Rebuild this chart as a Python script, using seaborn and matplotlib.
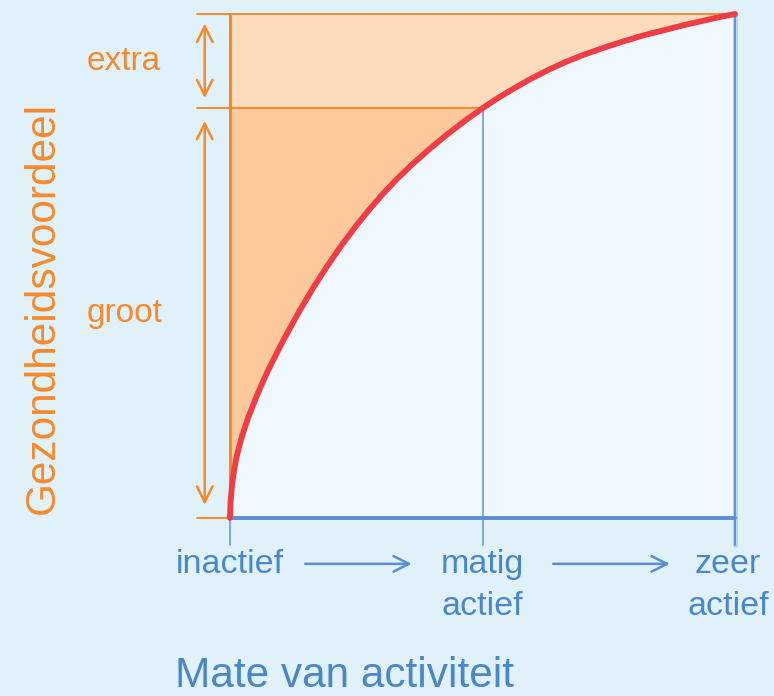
import numpy as np
import pandas as pd
import seaborn as sns
import matplotlib.pyplot as plt

# curve (activity 0..1, benefit 0..1)
activity = [0, 0.001, 0.004, 0.008, 0.012, 0.016, 0.022, 0.029, 0.036, 0.045,
            0.055, 0.065, 0.075, 0.087, 0.1, 0.12, 0.14, 0.165, 0.19, 0.22,
            0.25, 0.275, 0.3, 0.33, 0.36, 0.395, 0.43, 0.465, 0.5, 0.53,
            0.56, 0.595, 0.63, 0.665, 0.7, 0.74, 0.78, 0.82, 0.86, 0.895,
            0.93, 0.965, 1.0]
benefit = [0, 0.029, 0.065, 0.094, 0.116, 0.133, 0.156, 0.178, 0.199, 0.222,
           0.247, 0.27, 0.292, 0.316, 0.342, 0.379, 0.415, 0.457, 0.496, 0.54,
           0.58, 0.611, 0.64, 0.672, 0.701, 0.732, 0.761, 0.788, 0.813, 0.833,
           0.851, 0.871, 0.889, 0.905, 0.919, 0.933, 0.946, 0.958, 0.968, 0.977,
           0.985, 0.993, 1.0]

tick_pos = [0, 0.5, 1.0]
tick_labels = ["inactief", "matig\nactief", "zeer\nactief"]
levels = [0, 0.813, 1.0]
band_labels = ["groot", "extra"]

BG = "#e0f1fa"
INNER = "#eff8fe"
ORANGE = "#f7892a"
LIGHT_OR = "#fddcbd"
DARK_OR = "#fdc89b"
RED = "#ee3d45"
BLUE = "#4a87c9"
BLUE_LN = "#5b8fd0"

sns.set_theme(style="white")
plt.rcParams["font.family"] = ["Liberation Sans", "DejaVu Sans"]

fig = plt.figure(figsize=(7.74, 6.96), dpi=100, facecolor=BG)
ax = fig.add_axes([0, 0, 1, 1])
ax.set_facecolor(BG)
ax.set_xlim(-0.4554, 1.0772)
ax.set_ylim(-0.3532, 1.0278)
ax.axis("off")

df = pd.DataFrame({"activity": activity, "benefit": benefit})
x = np.array(activity)
y = np.array(benefit)

# panel background and orange fills
ax.fill_between([tick_pos[0], tick_pos[-1]], levels[0], levels[-1], color=INNER, lw=0, zorder=0)
ax.fill_between(x, np.maximum(y, levels[1]), levels[2], color=LIGHT_OR, lw=0, zorder=1)
ax.fill_between(x, y, levels[1], where=y <= levels[1], color=DARK_OR, lw=0, zorder=1)

# orange guide lines
ax.plot([-0.066, tick_pos[-1]], [levels[2]] * 2, color=ORANGE, lw=1.4, zorder=2)
ax.plot([-0.066, tick_pos[1]], [levels[1]] * 2, color=ORANGE, lw=1.4, zorder=2)
ax.plot([-0.066, tick_pos[0]], [levels[0]] * 2, color=ORANGE, lw=1.4, zorder=2)
ax.plot([tick_pos[0]] * 2, [levels[0], levels[2]], color=ORANGE, lw=2.2, zorder=2)

# blue axis, ticks and guides
ax.plot([tick_pos[-1]] * 2, [-0.054, levels[2]], color="#b3d3f1", lw=3.5, zorder=2)
ax.plot([tick_pos[-1]] * 2, [-0.054, levels[2]], color=BLUE_LN, lw=1.3, zorder=3)
ax.plot([tick_pos[1]] * 2, [-0.054, levels[1]], color="#7aa9de", lw=1.4, zorder=2)
ax.plot([tick_pos[0]] * 2, [-0.054, levels[0]], color="#7aa9de", lw=1.4, zorder=2)
ax.plot([tick_pos[0], tick_pos[-1]], [levels[0]] * 2, color=BLUE_LN, lw=2.8, zorder=3)

# the curve
sns.lineplot(data=df, x="activity", y="benefit", ax=ax, color=RED, lw=4.2,
             estimator=None, sort=True, zorder=5, solid_capstyle="round",
             solid_joinstyle="round")

# double arrows for the bands
arr = dict(arrowstyle="<->", color=ORANGE, lw=1.8, mutation_scale=28,
           shrinkA=0, shrinkB=0)
ax.annotate("", xy=(-0.05, 0.981), xytext=(-0.05, 0.833), arrowprops=arr)
ax.annotate("", xy=(-0.05, 0.788), xytext=(-0.05, 0.026), arrowprops=arr)
ax.text(-0.21, 0.889, band_labels[1], color=ORANGE, fontsize=24, ha="center", va="baseline")
ax.text(-0.208, 0.389, band_labels[0], color=ORANGE, fontsize=24, ha="center", va="baseline")

# tick labels
offsets = [0, 0, -0.014]
for p, lab, off in zip(tick_pos, tick_labels, offsets):
    ax.text(p + off, -0.062, lab, color=BLUE, fontsize=24.5, ha="center", va="top",
            linespacing=1.45)

barr = dict(arrowstyle="->", color=BLUE_LN, lw=1.8, mutation_scale=28,
            shrinkA=0, shrinkB=0)
ax.annotate("", xy=(0.36, -0.091), xytext=(0.149, -0.091), arrowprops=barr)
ax.annotate("", xy=(0.871, -0.091), xytext=(0.64, -0.091), arrowprops=barr)

# axis titles
ax.text(0.226, -0.336, "Mate van activiteit", color=BLUE, fontsize=30.5,
        ha="center", va="baseline")
ax.text(-0.37, 0.417, "Gezondheidsvoordeel", color=ORANGE, fontsize=30.5,
        rotation=90, ha="center", va="center")

fig.savefig("out.png", dpi=100, facecolor=BG)
